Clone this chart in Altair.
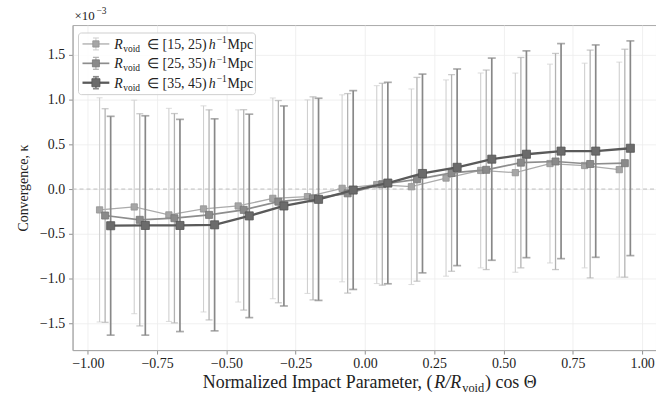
import altair as alt
import pandas as pd

# ---------------- data (kappa in units of 1e-3) ----------------
series = ["[15, 25)", "[25, 35)", "[35, 45)"]
x_bins = [-0.9375, -0.8125, -0.6875, -0.5625, -0.4375, -0.3125, -0.1875, -0.0625,
          0.0625, 0.1875, 0.3125, 0.4375, 0.5625, 0.6875, 0.8125, 0.9375]
x_shift = [-0.02, 0.0, 0.02]

kappa_15_25 = [-0.233, -0.200, -0.289, -0.222, -0.189, -0.104, -0.085, 0.008,
               0.050, 0.026, 0.123, 0.208, 0.183, 0.285, 0.263, 0.217]
kappa_25_35 = [-0.296, -0.344, -0.326, -0.289, -0.233, -0.141, -0.104, -0.048,
               0.054, 0.109, 0.180, 0.215, 0.295, 0.308, 0.280, 0.289]
kappa_35_45 = [-0.410, -0.407, -0.407, -0.400, -0.300, -0.189, -0.115, -0.011,
               0.067, 0.174, 0.243, 0.334, 0.389, 0.424, 0.424, 0.456]

err_15_25 = [1.253, 1.193, 1.191, 1.152, 1.074, 1.122, 1.082, 1.045,
             1.106, 1.093, 1.097, 1.089, 1.113, 1.111, 1.144, 1.202]
err_25_35 = [1.194, 1.186, 1.170, 1.174, 1.120, 1.130, 1.135, 1.115,
             1.128, 1.139, 1.099, 1.115, 1.176, 1.208, 1.273, 1.274]
err_35_45 = [1.223, 1.226, 1.186, 1.185, 1.137, 1.118, 1.130, 1.111,
             1.126, 1.111, 1.099, 1.130, 1.156, 1.202, 1.187, 1.200]

x_ticks = [-1.0, -0.75, -0.5, -0.25, 0.0, 0.25, 0.5, 0.75, 1.0]
y_ticks = [-1.5, -1.0, -0.5, 0.0, 0.5, 1.0, 1.5]

kappas = [kappa_15_25, kappa_25_35, kappa_35_45]
errs = [err_15_25, err_25_35, err_35_45]

# ---------------- styles ----------------
FONT = "Liberation Serif"
TXT = "#222222"
styles = [
    dict(line="#ababab", lw=1.3, fill="#a6a6a6", stroke="#929292", size=40, err="#d0d0d0", ew=1.1, cap=6),
    dict(line="#8d8d8d", lw=1.7, fill="#8a8a8a", stroke="#777777", size=50, err="#b3b3b3", ew=1.3, cap=7),
    dict(line="#5a5a5a", lw=2.3, fill="#6b6b6b", stroke="#555555", size=66, err="#888888", ew=1.7, cap=8),
]

W, H = 587, 327
XDOM = [-1.055, 1.05]
YDOM = [-1.8, 1.833]

def xenc(field):
    return alt.X(field, type="quantitative",
                 scale=alt.Scale(domain=XDOM, nice=False, zero=False),
                 axis=alt.Axis(values=x_ticks, format=".2f", title=None))

def yenc(field):
    return alt.Y(field, type="quantitative",
                 scale=alt.Scale(domain=YDOM, nice=False, zero=False),
                 axis=alt.Axis(values=y_ticks, format=".1f", title="Convergence, κ"))

layers = []

# zero reference line
zero_df = pd.DataFrame({"x": [XDOM[0], XDOM[1]], "k": [0.0, 0.0]})
layers.append(
    alt.Chart(zero_df).mark_line(color="#bdbdbd", strokeWidth=1, strokeDash=[4, 3])
    .encode(x=xenc("x"), y=yenc("k"))
)

for i, name in enumerate(series):
    st = styles[i]
    df = pd.DataFrame({
        "x": [xb + x_shift[i] for xb in x_bins],
        "k": kappas[i],
        "e": errs[i],
    })
    df["lo"] = df["k"] - df["e"]
    df["hi"] = df["k"] + df["e"]
    base = alt.Chart(df)
    layers.append(base.mark_rule(color=st["err"], strokeWidth=st["ew"])
                  .encode(x=xenc("x"), y=yenc("lo"), y2="hi:Q"))
    layers.append(base.mark_tick(color=st["err"], thickness=st["ew"], size=st["cap"], orient="horizontal")
                  .encode(x=xenc("x"), y=yenc("lo")))
    layers.append(base.mark_tick(color=st["err"], thickness=st["ew"], size=st["cap"], orient="horizontal")
                  .encode(x=xenc("x"), y=yenc("hi")))
    layers.append(base.mark_line(color=st["line"], strokeWidth=st["lw"])
                  .encode(x=xenc("x"), y=yenc("k")))
    layers.append(base.mark_point(shape="square", filled=True, size=st["size"], color=st["fill"],
                                  stroke=st["stroke"], strokeWidth=0.8, opacity=1)
                  .encode(x=xenc("x"), y=yenc("k")))

one = pd.DataFrame({"a": [0]})

def txt(s, x, y, size, style="normal", align="left", baseline="alphabetic", color=TXT):
    return alt.Chart(one).mark_text(font=FONT, fontSize=size, fontStyle=style, align=align,
                                    baseline=baseline, color=color).encode(
        x=alt.value(x), y=alt.value(y), text=alt.value(s))

# ---- legend (custom, to allow sub/superscripts) ----
layers.append(alt.Chart(one).mark_rect(fill="white", fillOpacity=0.85, stroke="#cfcfcf",
                                       strokeWidth=1, cornerRadius=3)
              .encode(x=alt.value(6), x2=alt.value(184), y=alt.value(8), y2=alt.value(70)))
rows_y = [19, 38.5, 58]
for i, name in enumerate(series):
    st = styles[i]
    yy = rows_y[i]
    layers.append(alt.Chart(one).mark_rule(color=st["line"], strokeWidth=st["lw"])
                  .encode(x=alt.value(10), x2=alt.value(37), y=alt.value(yy)))
    layers.append(alt.Chart(one).mark_rule(color=st["err"], strokeWidth=st["ew"])
                  .encode(x=alt.value(23.5), y=alt.value(yy - 6), y2=alt.value(yy + 6)))
    for dy in (-6, 6):
        layers.append(alt.Chart(one).mark_rule(color=st["err"], strokeWidth=st["ew"])
                      .encode(x=alt.value(20.5), x2=alt.value(26.5), y=alt.value(yy + dy)))
    layers.append(alt.Chart(one).mark_point(shape="square", filled=True, size=st["size"],
                                            color=st["fill"], stroke=st["stroke"],
                                            strokeWidth=0.8, opacity=1)
                  .encode(x=alt.value(23.5), y=alt.value(yy)))
    layers.append(txt("R", 42, yy + 5, 14, "italic"))
    layers.append(txt("void", 51, yy + 8, 9.5))
    layers.append(txt("∈ " + name, 75, yy + 5, 14))
    layers.append(txt("h", 137, yy + 5, 14, "italic"))
    layers.append(txt("−1", 145, yy - 0.5, 9.5))
    layers.append(txt("Mpc", 156, yy + 5, 14))

# ---- offset text ×10^-3 ----
layers.append(txt("×10", 2, -5, 13))
layers.append(txt("−3", 24, -11, 9.5))

# ---- x-axis title with subscript ----
XF = 18
SUB = 12.5
ty = 365
P = 362                     # end of "(": chart pixels
wB = 28                     # italic "R/R"
wS = 22                     # subscript "void"
layers.append(txt("Normalized Impact Parameter, (", P, ty, XF, align="right"))
layers.append(txt("R/R", P + 2, ty, XF, "italic"))
layers.append(txt("void", P + 2 + wB, ty + 4, SUB))
layers.append(txt(") cos Θ", P + 2 + wB + wS + 1, ty, XF))

chart = alt.layer(*layers).properties(
    width=W, height=H,
    autosize=alt.AutoSizeParams(type="none"),
    padding={"left": 73, "top": 24, "right": 0, "bottom": 48},
).configure_view(
    stroke="#a9a9a9", strokeWidth=1
).configure_axis(
    labelFont=FONT, titleFont=FONT, labelFontSize=14, titleFontSize=14,
    labelColor=TXT, titleColor=TXT, titleFontWeight="normal",
    domainColor="#a9a9a9", tickColor="#8f8f8f", tickSize=4, tickWidth=1,
    gridColor="#ececec", gridWidth=0.8, labelPadding=3,
).configure_axisY(
    titlePadding=9, labelPadding=4
)

chart.save("out.html", embed_options={"renderer": "svg", "actions": False})
